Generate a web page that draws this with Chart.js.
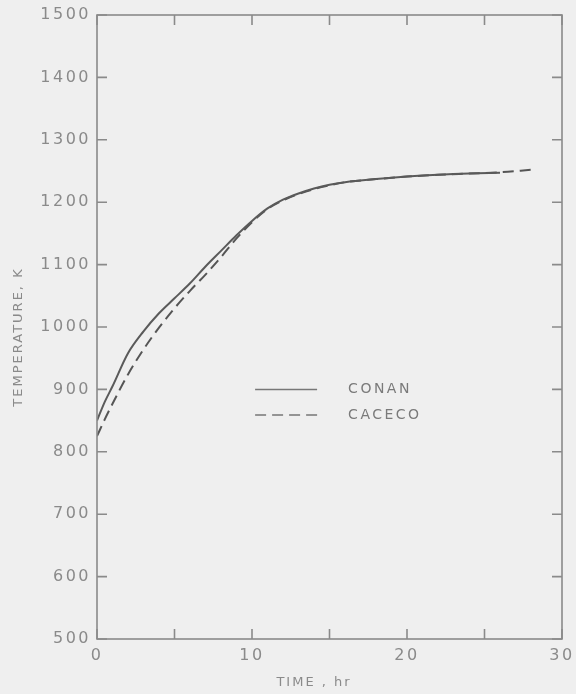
<!DOCTYPE html>
<html>
<head>
<meta charset="utf-8">
<script src="https://cdn.jsdelivr.net/npm/chart.js@4.4.0/dist/chart.umd.min.js"></script>
<style>
  html, body { margin: 0; padding: 0; background: #efefef; }
  #wrap { width: 576px; height: 694px; }
</style>
</head>
<body>
<div id="wrap"><canvas id="c" width="576" height="694"></canvas></div>
<script>
// ---- Data ----
const timeConan = [0, 0.5, 1, 2, 3, 4, 5, 6, 7, 8, 9, 10, 11, 12, 13, 14, 15, 16, 18, 20, 22, 24, 26];
const tempConan = [850, 880, 905, 958, 993, 1022, 1046, 1070, 1097, 1122, 1147, 1170, 1190, 1204, 1214, 1222, 1228, 1232, 1237, 1241, 1244, 1246, 1247];
const timeCaceco = [0, 0.5, 1, 2, 3, 4, 5, 6, 7, 8, 9, 10, 11, 12, 13, 14, 15, 16, 18, 20, 22, 24, 26, 28];
const tempCaceco = [825, 852, 877, 924, 964, 999, 1030, 1058, 1084, 1112, 1142, 1168, 1189, 1203, 1213, 1221, 1227, 1232, 1237, 1241, 1244, 1246, 1248, 1252];
const xTickLabels = [0, 10, 20, 30];
const yTickLabels = [500, 600, 700, 800, 900, 1000, 1100, 1200, 1300, 1400, 1500];
const seriesNames = ['CONAN', 'CACECO'];
const xTitle = 'TIME , hr';
const yTitle = 'TEMPERATURE, K';

const axisColor = '#8a8a8a';
const textColor = '#8a8a8a';
const fontFamily = '"DejaVu Sans", sans-serif';

const toPoints = (xs, ys) => xs.map((x, i) => ({ x: x, y: ys[i] }));

const spacing = {
  id: 'spacing',
  beforeDraw(chart) { chart.ctx.letterSpacing = '2.5px'; }
};

const frameTicks = {
  id: 'frameTicks',
  afterDraw(chart) {
    const { ctx, chartArea: a, scales } = chart;
    const xs = scales.x, ys = scales.y;
    ctx.save();
    ctx.strokeStyle = axisColor;
    ctx.lineWidth = 1.6;
    ctx.strokeRect(a.left, a.top, a.right - a.left, a.bottom - a.top);
    const len = 10;
    ctx.beginPath();
    for (let v = xs.min; v <= xs.max; v += 5) {
      const px = xs.getPixelForValue(v);
      ctx.moveTo(px, a.bottom); ctx.lineTo(px, a.bottom - len);
      ctx.moveTo(px, a.top); ctx.lineTo(px, a.top + len);
    }
    yTickLabels.forEach(v => {
      const py = ys.getPixelForValue(v);
      ctx.moveTo(a.left, py); ctx.lineTo(a.left + len, py);
      ctx.moveTo(a.right, py); ctx.lineTo(a.right - len, py);
    });
    ctx.stroke();

    // legend inside plot
    const ds = chart.data.datasets;
    const rows = [900, 859];
    const x0 = xs.getPixelForValue(10.2), x1 = xs.getPixelForValue(14.2), xt = xs.getPixelForValue(16.2);
    ctx.letterSpacing = '2.5px';
    ctx.font = '14px ' + fontFamily;
    ctx.textBaseline = 'middle';
    ctx.textAlign = 'left';
    ds.forEach((d, i) => {
      const py = ys.getPixelForValue(rows[i]);
      ctx.strokeStyle = '#777';
      ctx.lineWidth = 1.5;
      ctx.setLineDash(d.borderDash || []);
      ctx.beginPath(); ctx.moveTo(x0, py); ctx.lineTo(x1, py); ctx.stroke();
      ctx.setLineDash([]);
      ctx.fillStyle = '#7a7a7a';
      ctx.fillText(d.label, xt, py);
    });

    // axis titles
    ctx.fillStyle = textColor;
    ctx.font = '13px ' + fontFamily;
    ctx.letterSpacing = '2px';
    ctx.textAlign = 'center';
    ctx.fillText(xTitle, xs.getPixelForValue(14.0), a.bottom + 44);
    ctx.save();
    ctx.translate(19, (a.top + a.bottom) / 2 + 10);
    ctx.rotate(-Math.PI / 2);
    ctx.fillText(yTitle, 0, 0);
    ctx.restore();
    ctx.restore();
  }
};

new Chart(document.getElementById('c'), {
  type: 'scatter',
  data: {
    datasets: [
      {
        label: seriesNames[0],
        data: toPoints(timeConan, tempConan),
        showLine: true,
        borderColor: '#5a5a5a',
        borderWidth: 2,
        pointRadius: 0,
        cubicInterpolationMode: 'monotone'
      },
      {
        label: seriesNames[1],
        data: toPoints(timeCaceco, tempCaceco),
        showLine: true,
        borderColor: '#555555',
        borderWidth: 2,
        borderDash: [11, 6],
        pointRadius: 0,
        cubicInterpolationMode: 'monotone'
      }
    ]
  },
  options: {
    responsive: false,
    animation: false,
    events: [],
    layout: { padding: { left: 0, right: 14, top: 15, bottom: 0 } },
    plugins: { legend: { display: false }, tooltip: { enabled: false } },
    scales: {
      x: {
        type: 'linear',
        min: 0, max: 30,
        afterBuildTicks: (s) => { s.ticks = xTickLabels.map(v => ({ value: v })); },
        afterFit: (s) => { s.height = 55; s.paddingLeft = 0; s.paddingRight = 0; },
        grid: { display: false, drawTicks: false },
        border: { display: false },
        ticks: { color: textColor, font: { family: fontFamily, size: 16 }, padding: 7, maxRotation: 0,
                 callback: (v) => String(v) }
      },
      y: {
        type: 'linear',
        min: 500, max: 1500,
        afterBuildTicks: (s) => { s.ticks = yTickLabels.map(v => ({ value: v })); },
        afterFit: (s) => { s.width = 97; s.paddingTop = 0; s.paddingBottom = 0; },
        grid: { display: false, drawTicks: false },
        border: { display: false },
        ticks: { color: textColor, font: { family: fontFamily, size: 16 }, padding: 6,
                 callback: (v) => String(v) }
      }
    }
  },
  plugins: [spacing, frameTicks]
});
</script>
</body>
</html>
